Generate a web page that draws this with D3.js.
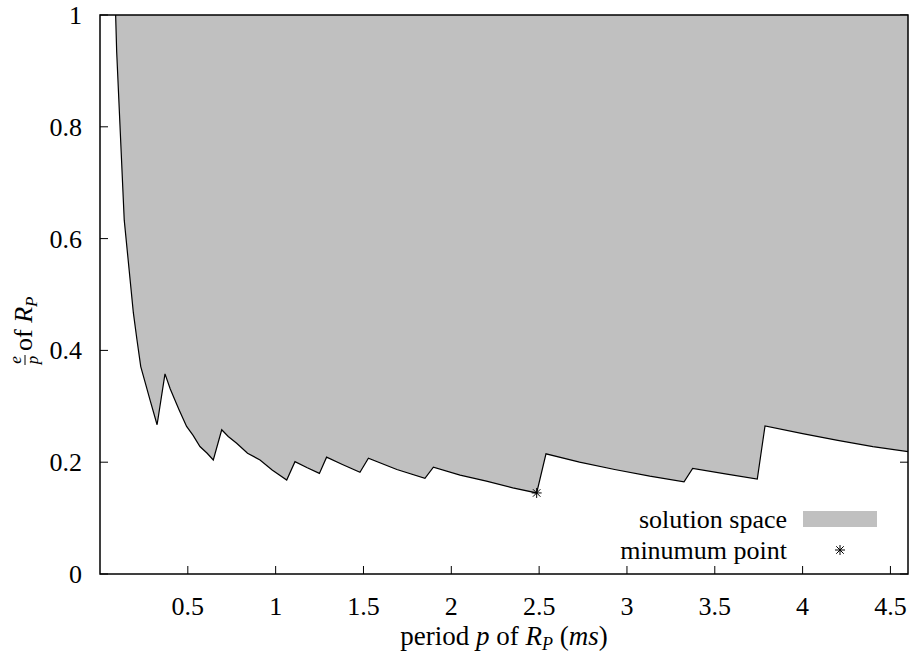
<!DOCTYPE html>
<html>
<head>
<meta charset="utf-8">
<script src="https://cdn.jsdelivr.net/npm/d3@7"></script>
<style>
  html, body { margin: 0; padding: 0; background: #fff; }
  svg text, svg tspan { font-family: "Liberation Serif", "Times New Roman", serif; }
</style>
</head>
<body>
<div id="chart"></div>
<script>
// lower boundary of the solution space
const periods = [0.089, 0.095, 0.138, 0.190, 0.210, 0.232, 0.255, 0.285, 0.325,
    0.370, 0.400, 0.427, 0.450, 0.493, 0.530, 0.569, 0.610, 0.645,
    0.693, 0.730, 0.778, 0.840, 0.911, 0.980, 1.063,
    1.110, 1.180, 1.249,
    1.290, 1.380, 1.480,
    1.528, 1.690, 1.850,
    1.898, 2.050, 2.200, 2.350, 2.486,
    2.539, 2.730, 2.930, 3.130, 3.325,
    3.374, 3.560, 3.742,
    3.786, 4.000, 4.200, 4.400, 4.600];
const ratios = [1.000, 0.934, 0.633, 0.467, 0.420, 0.371, 0.345, 0.311, 0.267,
    0.358, 0.331, 0.311, 0.294, 0.264, 0.248, 0.228, 0.216, 0.204,
    0.258, 0.246, 0.234, 0.216, 0.204, 0.186, 0.168,
    0.201, 0.190, 0.180,
    0.209, 0.196, 0.182,
    0.207, 0.187, 0.171,
    0.191, 0.177, 0.166, 0.154, 0.145,
    0.215, 0.200, 0.187, 0.175, 0.165,
    0.189, 0.179, 0.170,
    0.265, 0.251, 0.239, 0.228, 0.219];
const minPoint = [2.486, 0.145];
const xTicks = [0.5, 1, 1.5, 2, 2.5, 3, 3.5, 4, 4.5];
const yTicks = [0, 0.2, 0.4, 0.6, 0.8, 1];
const legendLabels = ["solution space", "minumum point"];

const width = 914, height = 655;
const margin = { top: 15, right: 6, bottom: 81, left: 100 };
const fs = 26;
const font = "'Liberation Serif', 'Times New Roman', serif";

const svg = d3.select("#chart").append("svg")
    .attr("width", width)
    .attr("height", height)
    .style("font-family", font);

const x = d3.scaleLinear().domain([0, 4.6]).range([margin.left, width - margin.right]);
const y = d3.scaleLinear().domain([0, 1]).range([height - margin.bottom, margin.top]);

const tickLen = 8;

// mirrored inward ticks (gnuplot style)
const ticks = svg.append("g").attr("stroke", "#000").attr("stroke-width", 1);
xTicks.forEach(t => {
    ticks.append("line").attr("x1", x(t)).attr("x2", x(t)).attr("y1", y(0)).attr("y2", y(0) - tickLen);
    ticks.append("line").attr("x1", x(t)).attr("x2", x(t)).attr("y1", y(1)).attr("y2", y(1) + tickLen);
});
yTicks.forEach(t => {
    ticks.append("line").attr("x1", x(0)).attr("x2", x(0) + tickLen).attr("y1", y(t)).attr("y2", y(t));
    ticks.append("line").attr("x1", x(4.6)).attr("x2", x(4.6) - tickLen).attr("y1", y(t)).attr("y2", y(t));
});

// filled solution space
const pts = periods.map((p, i) => [p, ratios[i]]);
const area = pts.concat([[4.6, 1], [periods[0], 1]]);
svg.append("path")
    .datum(area)
    .attr("d", d3.line().x(d => x(d[0])).y(d => y(d[1])))
    .attr("fill", "#c0c0c0")
    .attr("stroke", "none");

svg.append("path")
    .datum(pts)
    .attr("d", d3.line().x(d => x(d[0])).y(d => y(d[1])))
    .attr("fill", "none")
    .attr("stroke", "#000")
    .attr("stroke-width", 1.2);

// border
svg.append("rect")
    .attr("x", x(0)).attr("y", y(1))
    .attr("width", x(4.6) - x(0)).attr("height", y(0) - y(1))
    .attr("fill", "none").attr("stroke", "#000").attr("stroke-width", 1.5);

// plain label helper
function label(g, tx, ty, anchor, str) {
    return g.append("text")
        .attr("x", tx).attr("y", ty)
        .attr("text-anchor", anchor)
        .style("font-size", fs + "px")
        .text(str);
}

// tick labels
const xl = svg.append("g");
xTicks.forEach(d => label(xl, x(d), y(0) + 41, "middle", String(d)));
const yl = svg.append("g");
yTicks.forEach(d => label(yl, x(0) - 18, y(d) + 9, "end", String(d)));

// asterisk marker
function star(g, cx, cy, r) {
    const s = g.append("g").attr("stroke", "#000").attr("stroke-width", 1);
    s.append("line").attr("x1", cx - r).attr("x2", cx + r).attr("y1", cy).attr("y2", cy);
    s.append("line").attr("x1", cx).attr("x2", cx).attr("y1", cy - r).attr("y2", cy + r);
    s.append("line").attr("x1", cx - r * 0.75).attr("x2", cx + r * 0.75).attr("y1", cy - r * 0.75).attr("y2", cy + r * 0.75);
    s.append("line").attr("x1", cx - r * 0.75).attr("x2", cx + r * 0.75).attr("y1", cy + r * 0.75).attr("y2", cy - r * 0.75);
}
star(svg, x(minPoint[0]), y(minPoint[1]), 5);

// legend
const legend = svg.append("g");
label(legend, 787, 528, "end", legendLabels[0]);
legend.append("rect")
    .attr("x", 803).attr("y", 511)
    .attr("width", 74).attr("height", 16)
    .attr("fill", "#c0c0c0");
label(legend, 787, 559, "end", legendLabels[1]);
star(legend, 840, 550, 5);

// x axis title
const xt = svg.append("text")
    .attr("x", (x(0) + x(4.6)) / 2)
    .attr("y", 645)
    .attr("text-anchor", "middle")
    .style("font-size", "27px");
xt.append("tspan").text("period ");
xt.append("tspan").style("font-style", "italic").text("p");
xt.append("tspan").text(" of ");
xt.append("tspan").style("font-style", "italic").text("R");
xt.append("tspan").style("font-style", "italic").style("font-size", "18px").attr("dy", 5).text("P");
xt.append("tspan").attr("dy", -5).text(" (");
xt.append("tspan").style("font-style", "italic").text("ms");
xt.append("tspan").text(")");

// y axis title: e/p of R_P
const yt = svg.append("g").attr("transform", "translate(32,318) rotate(-90)");
yt.append("text").attr("x", -42).attr("y", -11).attr("text-anchor", "middle")
    .style("font-size", "17px").style("font-style", "italic").text("e");
yt.append("line").attr("x1", -47).attr("x2", -37).attr("y1", -7).attr("y2", -7)
    .attr("stroke", "#000").attr("stroke-width", 1);
yt.append("text").attr("x", -42).attr("y", 6).attr("text-anchor", "middle")
    .style("font-size", "17px").style("font-style", "italic").text("p");
const ytt = yt.append("text").attr("x", -33).attr("y", 0)
    .style("font-size", fs + "px");
ytt.append("tspan").text("of ");
ytt.append("tspan").style("font-style", "italic").text("R");
ytt.append("tspan").style("font-style", "italic").style("font-size", "17px").attr("dy", 5).text("P");
</script>
</body>
</html>
